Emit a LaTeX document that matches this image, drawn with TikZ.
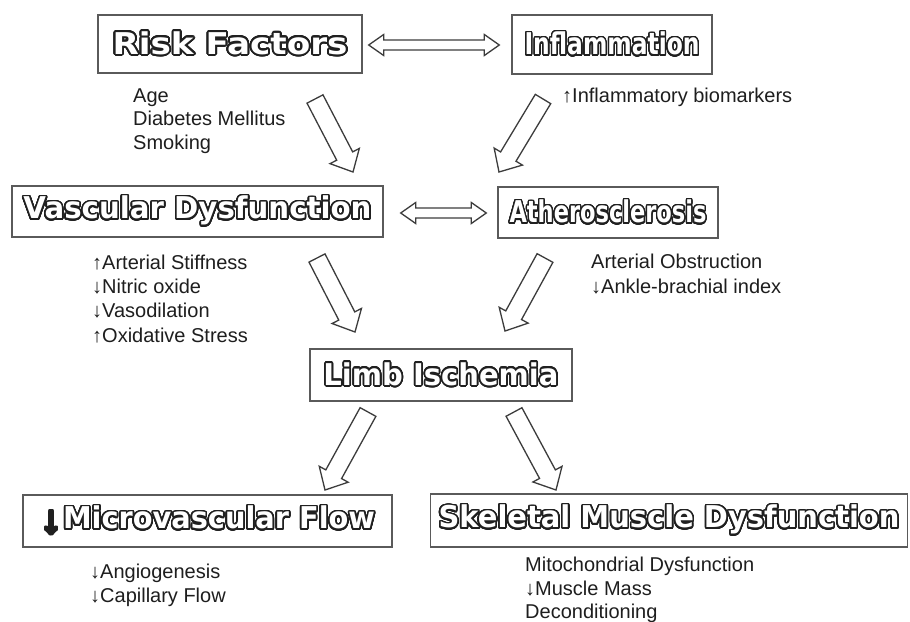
\documentclass[tikz,border=0pt]{standalone}
\usepackage{fontspec}
\setmainfont{Liberation Sans}
\newfontfamily\hdrfont{DejaVu Sans}
\usepackage{graphicx}
\usepackage{contour}
\contourlength{1.7pt}
\contournumber{32}
\usetikzlibrary{calc}

\definecolor{txt}{HTML}{1E1E1E}
\definecolor{boxgray}{HTML}{5A5A5A}
\definecolor{arrgray}{HTML}{3C3C3C}
\definecolor{ring}{HTML}{202020}

% outlined heading text, stretched to a given width
\newcommand\hdr[2]{\resizebox{#1}{\height}{\hdrfont\bfseries\fontsize{30}{32}\selectfont\color{white}\contour{ring}{#2}}}

% hollow block arrow from #1 to #2
\newcommand\blockarrow[2]{%
  \path ($(#2)!18pt!(#1)$) coordinate (nk);
  \draw[blockarr] ($(#1)!9pt!90:(#2)$) -- ($(nk)!9pt!90:(#2)$) -- ($(nk)!16.5pt!90:(#2)$)
    -- (#2) -- ($(nk)!16.5pt!-90:(#2)$) -- ($(nk)!9pt!-90:(#2)$) -- ($(#1)!9pt!-90:(#2)$) -- cycle;}

% hollow double-headed arrow between #1 and #2
\newcommand\dblarrow[2]{%
  \path ($(#1)!15pt!(#2)$) coordinate (na) ($(#2)!15pt!(#1)$) coordinate (nb);
  \draw[blockarr] (#1) -- ($(na)!10.5pt!90:(#2)$) -- ($(na)!5pt!90:(#2)$)
    -- ($(nb)!5pt!-90:(#1)$) -- ($(nb)!10.5pt!-90:(#1)$) -- (#2)
    -- ($(nb)!10.5pt!90:(#1)$) -- ($(nb)!5pt!90:(#1)$)
    -- ($(na)!5pt!-90:(#2)$) -- ($(na)!10.5pt!-90:(#2)$) -- cycle;}

\tikzset{
  hbox/.style={draw=boxgray, line width=1.4pt, fill=white, inner sep=0pt},
  lst/.style={anchor=north west, inner sep=0pt, align=left, text=txt,
    font=\fontsize{20}{23.5}\selectfont},
  blockarr/.style={draw=arrgray, line width=1.3pt, fill=white, line join=miter},
}

\begin{document}
\begin{tikzpicture}[x=1pt, y=-1pt]
\useasboundingbox[fill=white] (0,0) rectangle (910,621);

% heading boxes
\node[hbox, minimum width=264pt, minimum height=58pt] (rf) at (230,44) {\hdr{235pt}{Risk Factors}};
\node[hbox, minimum width=200pt, minimum height=59pt] (inf) at (612,44.5) {\hdr{175pt}{Inflammation}};
\node[hbox, minimum width=371pt, minimum height=51pt] (vd) at (197.5,211.5) {\hdr{348pt}{Vascular Dysfunction}};
\node[hbox, minimum width=220pt, minimum height=51pt] (ath) at (608,212.5) {\hdr{197pt}{Atherosclerosis}};
\node[hbox, minimum width=262pt, minimum height=52pt] (li) at (441,375) {\hdr{235pt}{Limb Ischemia}};
\node[hbox, minimum width=369pt, minimum height=52pt] (mf) at (207.5,521) {\hdr{335pt}{\textcolor{ring}{\rmfamily\bfseries\raisebox{-0.14em}{\scalebox{1.6}[1.3]{↓}}}Microvascular Flow}};
\node[hbox, minimum width=477pt, minimum height=53pt] (sm) at (669,520.5) {\hdr{461pt}{Skeletal Muscle Dysfunction}};

% lists under the headings
\node[lst] (rfl) at (133,85.5) {\strut Age\\Diabetes Mellitus\\Smoking};
\node[lst] (infl) at (562,85.5) {\strut ↑Inflammatory biomarkers};
\node[lst, font=\fontsize{20}{24.3}\selectfont] (vdl) at (92,252) {\strut ↑Arterial Stiffness\\↓Nitric oxide\\↓Vasodilation\\↑Oxidative Stress};
\node[lst, font=\fontsize{20}{25}\selectfont] (athl) at (591,250.5) {\strut Arterial Obstruction\\↓Ankle-brachial index};
\node[lst, font=\fontsize{20}{24}\selectfont] (mfl) at (90,561) {\strut ↓Angiogenesis\\↓Capillary Flow};
\node[lst] (sml) at (525,555) {\strut Mitochondrial Dysfunction\\↓Muscle Mass\\Deconditioning};

% arrow ends
\coordinate (a1t) at (315,99);  \coordinate (a1h) at (353,172);
\coordinate (a2t) at (543,99);  \coordinate (a2h) at (499,172);
\coordinate (a3t) at (317,258); \coordinate (a3h) at (355,332);
\coordinate (a4t) at (545,258); \coordinate (a4h) at (505,331);
\coordinate (a5t) at (368,412); \coordinate (a5h) at (325,490);
\coordinate (a6t) at (514,412); \coordinate (a6h) at (556,490);
\coordinate (d1a) at ($(rf.east)+(6,1)$);  \coordinate (d1b) at ($(inf.west)+(-12,0.5)$);
\coordinate (d2a) at ($(vd.east)+(17,1.5)$); \coordinate (d2b) at ($(ath.west)+(-11,0.5)$);

\dblarrow{d1a}{d1b}
\dblarrow{d2a}{d2b}
\blockarrow{a1t}{a1h}
\blockarrow{a2t}{a2h}
\blockarrow{a3t}{a3h}
\blockarrow{a4t}{a4h}
\blockarrow{a5t}{a5h}
\blockarrow{a6t}{a6h}
\end{tikzpicture}
\end{document}
